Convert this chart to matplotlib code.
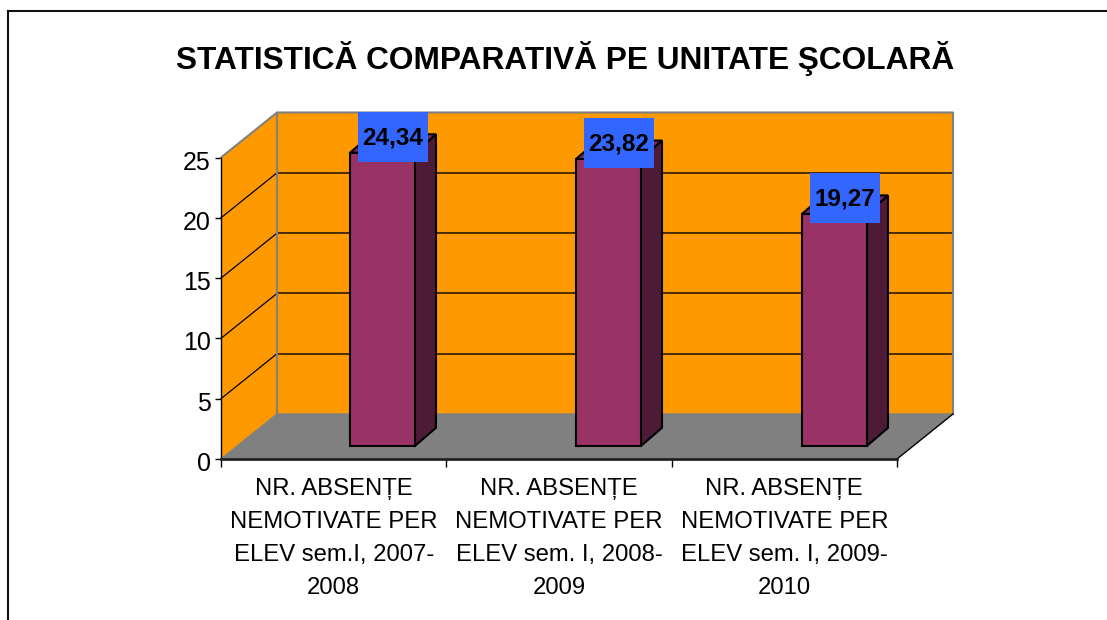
"""Comparative bar chart of unexcused absences, drawn as a fake 3D box."""

from matplotlib import pyplot as plt
from matplotlib.lines import Line2D
from matplotlib.patches import Polygon, Rectangle
from matplotlib.transforms import ScaledTranslation

plt.rcParams['font.family'] = ['Liberation Sans', 'DejaVu Sans']

labels = [
    "NR. ABSENȚE\nNEMOTIVATE PER\nELEV sem.I, 2007-\n2008",
    "NR. ABSENȚE\nNEMOTIVATE PER\nELEV sem. I, 2008-\n2009",
    "NR. ABSENȚE\nNEMOTIVATE PER\nELEV sem. I, 2009-\n2010",
]
values = [24.34, 23.82, 19.27]
value_labels = ["24,34", "23,82", "19,27"]
y_ticks = [0, 5, 10, 15, 20, 25]

W, H = 1107, 620
fig = plt.figure(figsize=(W / 100, H / 100), dpi=100)
ax = fig.add_axes([221 / W, 1 - 459 / H, 676 / W, 301.5 / H])
ax.set_xlim(0, 3)
ax.set_ylim(0, 25)
ax.patch.set_visible(False)
for s in ax.spines.values():
    s.set_visible(False)

px = 3 / 676      # data units per pixel, x
py = 25 / 301.5   # data units per pixel, y
depth_x, depth_y = 56 * px, 45 * py

# walls and floor
ax.add_patch(Polygon([(0, 0), (depth_x, depth_y), (depth_x, 25 + depth_y), (0, 25)],
                     closed=True, fc='#FF9900', ec='none', zorder=1, clip_on=False))
ax.add_patch(Rectangle((depth_x, depth_y), 3, 25, fc='#FF9900', ec='none', zorder=1, clip_on=False))
ax.add_patch(Polygon([(0, 0), (3, 0), (3 + depth_x, depth_y), (depth_x, depth_y)],
                     closed=True, fc='#808080', ec='none', zorder=1, clip_on=False))

# gridlines, thin on the side wall and a bit heavier on the back wall
for t in y_ticks[1:-1]:
    ax.plot([0, depth_x], [t, t + depth_y], color='#000000', lw=0.9, zorder=2, clip_on=False)
    ax.plot([depth_x, 3 + depth_x], [t + depth_y, t + depth_y],
            color='#3A2400', lw=1.3, zorder=2, clip_on=False)

# wall outlines
ax.plot([0, depth_x, 3 + depth_x, 3 + depth_x], [25, 25 + depth_y, 25 + depth_y, depth_y],
        color='#808080', lw=1.5, zorder=2, clip_on=False)
ax.plot([depth_x, depth_x], [depth_y, 25 + depth_y], color='#808080', lw=1.5, zorder=2, clip_on=False)
ax.plot([0, depth_x, 3 + depth_x], [0, depth_y, depth_y], color='#808080', lw=1, zorder=2, clip_on=False)
ax.plot([3, 3 + depth_x], [0, depth_y], color='#000000', lw=1, zorder=2, clip_on=False)

# bars
bar_x0 = 129 * px
bar_w = 64.5 * px
bar_y0 = 12.7 * py
bar_dx, bar_dy = 21.5 * px, 18.5 * py
for i, v in enumerate(values):
    x0 = i * 226 * px + bar_x0
    top = bar_y0 + v
    ax.add_patch(Polygon([(x0 + bar_w, bar_y0), (x0 + bar_w + bar_dx, bar_y0 + bar_dy),
                          (x0 + bar_w + bar_dx, top + bar_dy), (x0 + bar_w, top)],
                         closed=True, fc='#4D1B35', ec='#000000', lw=1.5, zorder=3, clip_on=False))
    ax.add_patch(Polygon([(x0, top), (x0 + bar_w, top), (x0 + bar_w + bar_dx, top + bar_dy),
                          (x0 + bar_dx, top + bar_dy)],
                         closed=True, fc='#7A2A55', ec='#000000', lw=1.5, zorder=3, clip_on=False))
    ax.add_patch(Rectangle((x0, bar_y0), bar_w, v, fc='#993366', ec='#000000', lw=1.5,
                           zorder=4, clip_on=False))
    # value box
    bx = x0 + 7.5 * px
    by = top - 9 * py
    ax.add_patch(Rectangle((bx, by), 70 * px, 50 * py, fc='#3366FF', ec='none', zorder=5, clip_on=False))
    ax.text(bx + 35 * px, by + 24 * py, value_labels[i], ha='center', va='center',
            fontsize=17.5, fontweight='bold', color='black', zorder=6, clip_on=False)

# axes
ax.plot([0, 0], [0, 25], color='black', lw=1, zorder=6, clip_on=False)
ax.plot([0, 3], [0, 0], color='#222222', lw=2, zorder=6, clip_on=False)
ax.set_yticks(y_ticks)
ax.set_xticks([0, 1, 2, 3])
ax.set_xticklabels([])
ax.tick_params(axis='y', length=4.3, width=1, labelsize=18, pad=3)
ax.tick_params(axis='x', length=6, width=1, color='black')
# tick numbers sit a little below their ticks
shift = ScaledTranslation(0, -2.5 / 100, fig.dpi_scale_trans)
for t in ax.get_yticklabels():
    t.set_transform(t.get_transform() + shift)
for i, lab in enumerate(labels):
    ax.annotate(lab, (i + 0.5, 0), xytext=(0, -14), textcoords='offset points',
                ha='center', va='top', fontsize=17.2, linespacing=1.63, annotation_clip=False)

fig.text(565 / W, 1 - 58 / H, "STATISTICĂ COMPARATIVĂ PE UNITATE ŞCOLARĂ",
         ha='center', va='center', fontsize=22.8, fontweight='bold')

# chart frame: only the top and left edges show in the picture
fig.add_artist(Line2D([8 / W, 8 / W], [0, 1 - 11 / H], transform=fig.transFigure, color='#111111', lw=1.5))
fig.add_artist(Line2D([8 / W, 1], [1 - 11 / H, 1 - 11 / H], transform=fig.transFigure, color='#111111', lw=1.5))

fig.savefig('out.png', dpi=100)
